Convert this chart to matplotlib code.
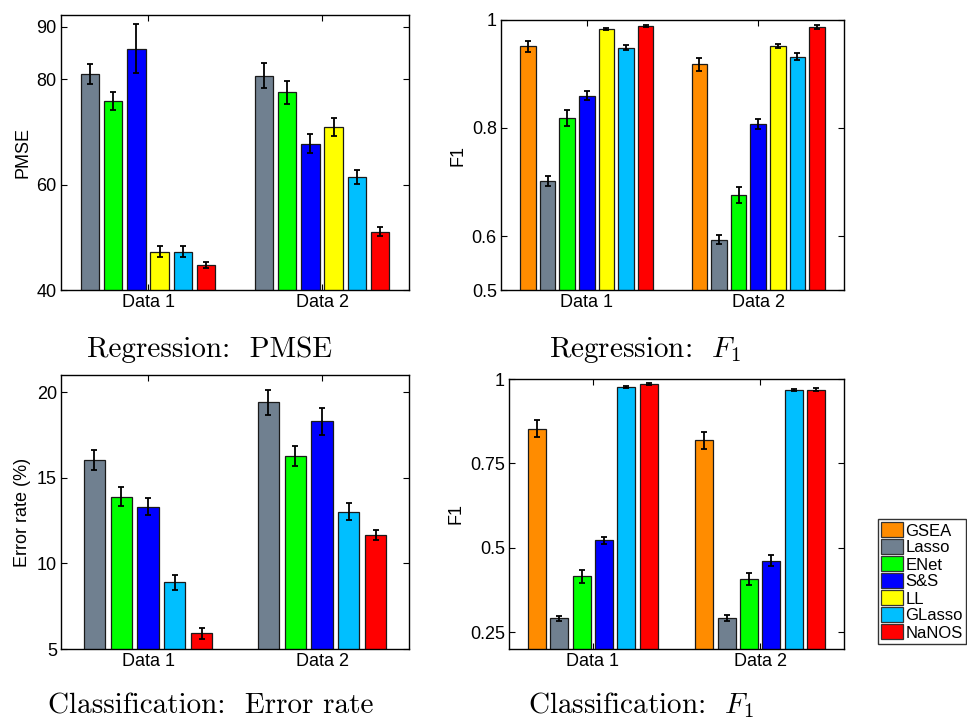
import matplotlib
matplotlib.use("Agg")
import matplotlib.pyplot as plt
from matplotlib.patches import Patch
import numpy as np

plt.rcParams['font.family'] = ['Liberation Sans', 'DejaVu Sans']
plt.rcParams['mathtext.fontset'] = 'cm'

groups = ["Data 1", "Data 2"]
methods = ["GSEA", "Lasso", "ENet", "S&S", "LL", "GLasso", "NaNOS"]
colors = {"GSEA": "#FF8C00", "Lasso": "#708090", "ENet": "#00FF00", "S&S": "#0000FF",
          "LL": "#FFFF00", "GLasso": "#00BFFF", "NaNOS": "#FF0000"}

# Regression: PMSE
pmse_methods = ["Lasso", "ENet", "S&S", "LL", "GLasso", "NaNOS"]
pmse_d1 = [81.0, 75.8, 85.8, 47.3, 47.3, 44.7]
pmse_d2 = [80.7, 77.5, 67.8, 71.0, 61.5, 51.1]
pmse_e1 = [1.9, 1.7, 4.7, 1.0, 1.0, 0.6]
pmse_e2 = [2.3, 2.2, 1.8, 1.7, 1.3, 0.9]

# Regression: F1
rf1_methods = ["GSEA", "Lasso", "ENet", "S&S", "LL", "GLasso", "NaNOS"]
rf1_d1 = [0.951, 0.702, 0.818, 0.860, 0.983, 0.949, 0.989]
rf1_d2 = [0.918, 0.593, 0.676, 0.807, 0.952, 0.932, 0.987]
rf1_e1 = [0.011, 0.009, 0.015, 0.009, 0.002, 0.005, 0.002]
rf1_e2 = [0.012, 0.008, 0.014, 0.009, 0.003, 0.006, 0.003]

# Classification: error rate
err_methods = ["Lasso", "ENet", "S&S", "GLasso", "NaNOS"]
err_d1 = [16.04, 13.90, 13.30, 8.89, 5.93]
err_d2 = [19.40, 16.27, 18.29, 13.02, 11.66]
err_e1 = [0.60, 0.55, 0.50, 0.45, 0.32]
err_e2 = [0.75, 0.60, 0.78, 0.50, 0.30]

# Classification: F1
cf1_methods = ["GSEA", "Lasso", "ENet", "S&S", "GLasso", "NaNOS"]
cf1_d1 = [0.853, 0.291, 0.415, 0.522, 0.975, 0.985]
cf1_d2 = [0.818, 0.291, 0.407, 0.462, 0.968, 0.968]
cf1_e1 = [0.025, 0.008, 0.020, 0.011, 0.003, 0.002]
cf1_e2 = [0.024, 0.009, 0.018, 0.016, 0.003, 0.004]

W, H = 967, 719
fig = plt.figure(figsize=(W / 100, H / 100), dpi=100)


def rect(l, r, t, b):
    return [l / W, 1 - b / H, (r - l) / W, (b - t) / H]


def grouped(ax, meths, d1, d2, e1, e2, ylim, yticks, yticklabels, ylabel):
    n = len(meths)
    gw = min(0.8, n / (n + 1.5))
    sp = gw / n
    bw = 0.8 * sp
    xg = np.arange(1, len(groups) + 1)
    for i, m in enumerate(meths):
        off = (i - (n - 1) / 2) * sp
        vals = [d1[i], d2[i]]
        errs = [e1[i], e2[i]]
        ax.bar(xg + off, vals, width=bw, color=colors[m], edgecolor='#1a1a1a',
               linewidth=0.9, zorder=2)
        ax.errorbar(xg + off, vals, yerr=errs, fmt='none', ecolor='black',
                    elinewidth=1.3, capsize=2, capthick=1.3, zorder=3)
    ax.set_xlim(0.5, 2.5)
    ax.set_ylim(*ylim)
    ax.set_xticks(xg)
    ax.set_xticklabels(groups, fontsize=13)
    ax.set_yticks(yticks)
    ax.set_yticklabels(yticklabels, fontsize=13)
    ax.set_ylabel(ylabel, fontsize=13)
    ax.tick_params(direction='in', top=True, right=True, length=4, width=0.8, pad=3)
    for s in ax.spines.values():
        s.set_linewidth(1.0)


ax1 = fig.add_axes(rect(61, 409, 15, 290))
grouped(ax1, pmse_methods, pmse_d1, pmse_d2, pmse_e1, pmse_e2, (40, 92.2),
        [40, 60, 80, 90], ["40", "60", "80", "90"], "PMSE")

ax2 = fig.add_axes(rect(501, 844, 20, 290))
grouped(ax2, rf1_methods, rf1_d1, rf1_d2, rf1_e1, rf1_e2, (0.5, 1.0),
        [0.5, 0.6, 0.8, 1.0], ["0.5", "0.6", "0.8", "1"], "F1")

ax3 = fig.add_axes(rect(61, 409, 375, 649))
grouped(ax3, err_methods, err_d1, err_d2, err_e1, err_e2, (5, 21),
        [5, 10, 15, 20], ["5", "10", "15", "20"], "Error rate (%)")

ax4 = fig.add_axes(rect(509, 844, 379, 649))
grouped(ax4, cf1_methods, cf1_d1, cf1_d2, cf1_e1, cf1_e2, (0.2, 1.0),
        [0.25, 0.5, 0.75, 1.0], ["0.25", "0.5", "0.75", "1"], "F1")

tkw = dict(fontsize=21, fontfamily='cmr10', ha='center', va='baseline')
fig.text(210 / W, 1 - 357 / H, "Regression:  PMSE", **tkw)
fig.text(645 / W, 1 - 357 / H, r"Regression:  $F_1$", **tkw)
fig.text(211 / W, 1 - 713 / H, "Classification:  Error rate", **tkw)
fig.text(641 / W, 1 - 713 / H, r"Classification:  $F_1$", **tkw)

handles = [Patch(facecolor=colors[m], edgecolor='#333333', linewidth=0.9) for m in methods]
leg = fig.legend(handles, methods, loc='upper left', bbox_to_anchor=(878 / W, 1 - 519 / H),
                 fontsize=12, frameon=True, fancybox=False, edgecolor='black',
                 handlelength=1.3, handleheight=1.0, labelspacing=0.05,
                 borderpad=0.2, handletextpad=0.15, borderaxespad=0)
leg.get_frame().set_linewidth(1.0)

fig.savefig("out.png", dpi=100)
